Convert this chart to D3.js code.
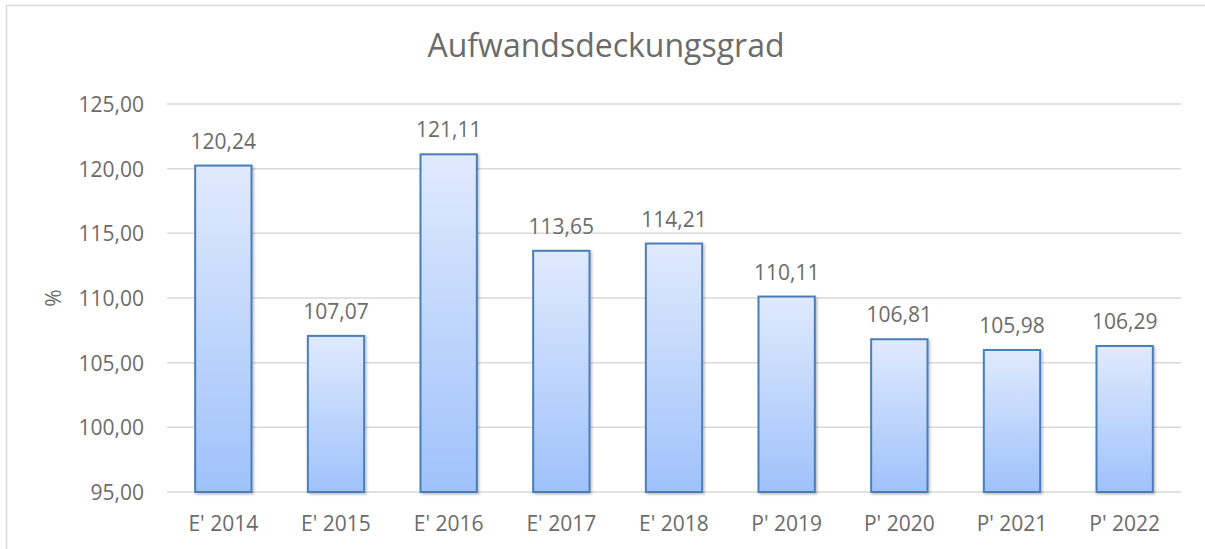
<!DOCTYPE html>
<html>
<head>
<meta charset="utf-8">
<script src="https://cdn.jsdelivr.net/npm/d3@7"></script>
<style>
    body { margin: 0; background: #fff; }
    text { font-family: "Open Sans", sans-serif; fill: #6b6b6b; }
</style>
</head>
<body>
<div id="chart"></div>
<script>
/** data **/
const categories = ["E' 2014", "E' 2015", "E' 2016", "E' 2017", "E' 2018", "P' 2019", "P' 2020", "P' 2021", "P' 2022"];
const values = [120.24, 107.07, 121.11, 113.65, 114.21, 110.11, 106.81, 105.98, 106.29];
const yTicks = [95, 100, 105, 110, 115, 120, 125];
const yDomain = [95, 125];
const chartTitle = "Aufwandsdeckungsgrad";
const yLabel = "%";

const width = 1205;
const height = 549;
const margin = { top: 104, right: 24, bottom: 57, left: 167 };

const fmt = v => v.toFixed(2).replace(".", ",");

const svg = d3.select("#chart")
    .append("svg")
    .attr("width", width)
    .attr("height", height);

const defs = svg.append("defs");
const grad = defs.append("linearGradient")
    .attr("id", "barGrad")
    .attr("x1", 0).attr("y1", 0)
    .attr("x2", 0).attr("y2", 1);
grad.append("stop").attr("offset", "0%").attr("stop-color", "#e0eafd");
grad.append("stop").attr("offset", "100%").attr("stop-color", "#9fc2fb");

const shadow = defs.append("filter")
    .attr("id", "shadow")
    .attr("x", "-20%").attr("y", "-20%")
    .attr("width", "140%").attr("height", "140%");
shadow.append("feDropShadow")
    .attr("dx", 1.5).attr("dy", 1.5)
    .attr("stdDeviation", 1.2)
    .attr("flood-color", "#000")
    .attr("flood-opacity", 0.25);

// chart border (runs off right and bottom edge)
svg.append("rect")
    .attr("x", 6.5).attr("y", 5.5)
    .attr("width", 1400).attr("height", 700)
    .attr("fill", "none")
    .attr("stroke", "#d9d9d9")
    .attr("stroke-width", 1.5);

const x = d3.scaleBand()
    .domain(categories)
    .range([margin.left, width - margin.right])
    .paddingInner(0.5)
    .paddingOuter(0.25);

const y = d3.scaleLinear()
    .domain(yDomain)
    .range([height - margin.bottom, margin.top]);

// gridlines
svg.append("g")
    .selectAll("line")
    .data(yTicks)
    .join("line")
    .attr("x1", margin.left)
    .attr("x2", width - margin.right)
    .attr("y1", d => y(d))
    .attr("y2", d => y(d))
    .attr("stroke", "#d9d9d9")
    .attr("stroke-width", 1.5);

// y tick labels
svg.append("g")
    .selectAll("text")
    .data(yTicks)
    .join("text")
    .attr("x", 144)
    .attr("y", d => y(d))
    .attr("text-anchor", "end")
    .attr("dominant-baseline", "central")
    .attr("font-size", 21)
    .text(d => fmt(d));

// bars
svg.append("g")
    .selectAll("rect")
    .data(values)
    .join("rect")
    .attr("x", (d, i) => x(categories[i]))
    .attr("y", d => y(d))
    .attr("width", x.bandwidth())
    .attr("height", d => y(yDomain[0]) - y(d))
    .attr("fill", "url(#barGrad)")
    .attr("stroke", "#4a7ebb")
    .attr("stroke-width", 2)
    .attr("filter", "url(#shadow)");

// data labels
svg.append("g")
    .selectAll("text")
    .data(values)
    .join("text")
    .attr("x", (d, i) => x(categories[i]) + x.bandwidth() / 2)
    .attr("y", d => y(d) - 17)
    .attr("text-anchor", "middle")
    .attr("font-size", 21)
    .text(d => fmt(d));

// x labels
svg.append("g")
    .selectAll("text")
    .data(categories)
    .join("text")
    .attr("x", d => x(d) + x.bandwidth() / 2)
    .attr("y", y(yDomain[0]) + 39)
    .attr("text-anchor", "middle")
    .attr("font-size", 21)
    .text(d => d);

// axis title
svg.append("text")
    .attr("transform", `translate(61, ${(y(yDomain[0]) + y(yDomain[1])) / 2}) rotate(-90)`)
    .attr("text-anchor", "middle")
    .attr("font-size", 21)
    .text(yLabel);

// chart title
svg.append("text")
    .attr("x", 606)
    .attr("y", 57)
    .attr("text-anchor", "middle")
    .attr("font-size", 32)
    .text(chartTitle);
</script>
</body>
</html>
